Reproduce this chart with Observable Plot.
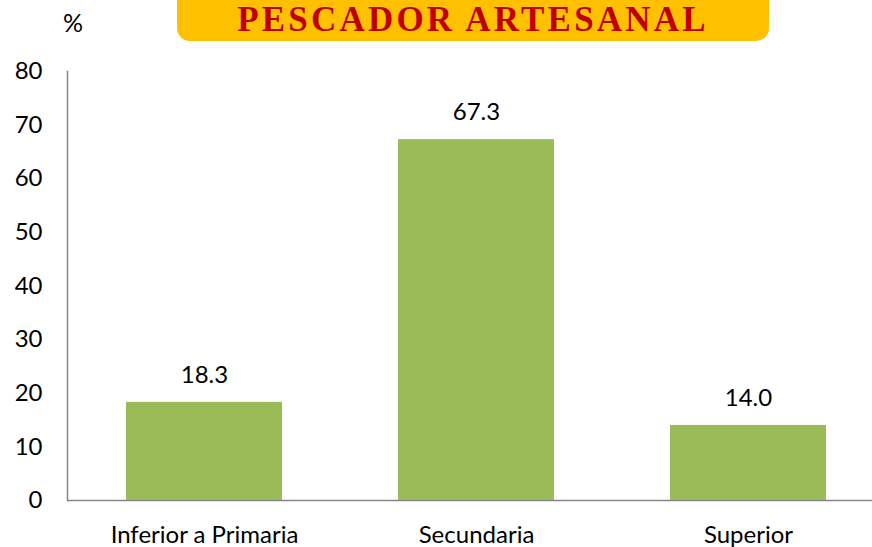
<!DOCTYPE html>
<html>
<head>
<meta charset="utf-8">
<script src="https://cdn.jsdelivr.net/npm/d3@7"></script>
<script src="https://cdn.jsdelivr.net/npm/@observablehq/plot@0.6"></script>
<style>
  body { margin: 0; background: #fff; }
  #wrap { position: relative; width: 872px; height: 547px; overflow: hidden; }
  #title {
    position: absolute; left: 177px; top: 0px; width: 592px; height: 41px;
    background: #FFC000; border-radius: 0 0 13px 13px; box-sizing: border-box;
    color: #C00000; font-family: "Liberation Serif", "DejaVu Serif", serif; font-weight: bold;
    font-size: 35px; text-align: center; line-height: 30px; padding-top: 4.5px; letter-spacing: 3.2px;
  }
  #unit { position: absolute; left: 63px; top: 7px; font-family: Lato, "Open Sans", sans-serif; font-size: 25px; line-height: 30px; }
</style>
</head>
<body>
<div id="wrap">
  <div id="chart"></div>
  <div id="title">PESCADOR ARTESANAL</div>
  <div id="unit">%</div>
</div>
<script>
const categories = ["Inferior a Primaria", "Secundaria", "Superior"];
const values = [18.3, 67.3, 14.0];
const yTicks = [0, 10, 20, 30, 40, 50, 60, 70, 80];

const data = categories.map((c, i) => ({category: c, value: values[i]}));

const chart = Plot.plot({
  width: 872,
  height: 547,
  marginTop: 71,
  marginBottom: 47,
  marginLeft: 67,
  marginRight: -12,
  style: {fontFamily: "Lato, 'Open Sans', sans-serif", fontSize: "24px", color: "#000", overflow: "hidden"},
  x: {domain: categories, paddingInner: 0.427, paddingOuter: 0.2135, label: null},
  y: {domain: [0, 80], ticks: yTicks, label: null},
  marks: [
    Plot.barY(data, {x: "category", y: "value", fill: "#9BBB59"}),
    Plot.text(data, {x: "category", y: "value", text: d => d.value.toFixed(1), dy: -27, fontSize: 24, fill: "#000"}),
    Plot.axisY({ticks: yTicks, tickSize: 0, tickPadding: 25, fontSize: 24, label: null, fill: "#000"}),
    Plot.axisX({tickSize: 0, tickPadding: 25, fontSize: 24, label: null, fill: "#000"}),
    Plot.frame({anchor: "left", stroke: "#868686", strokeWidth: 1.5}),
    Plot.ruleY([0], {stroke: "#868686", strokeWidth: 1.5})
  ]
});
document.getElementById("chart").appendChild(chart);
</script>
</body>
</html>
